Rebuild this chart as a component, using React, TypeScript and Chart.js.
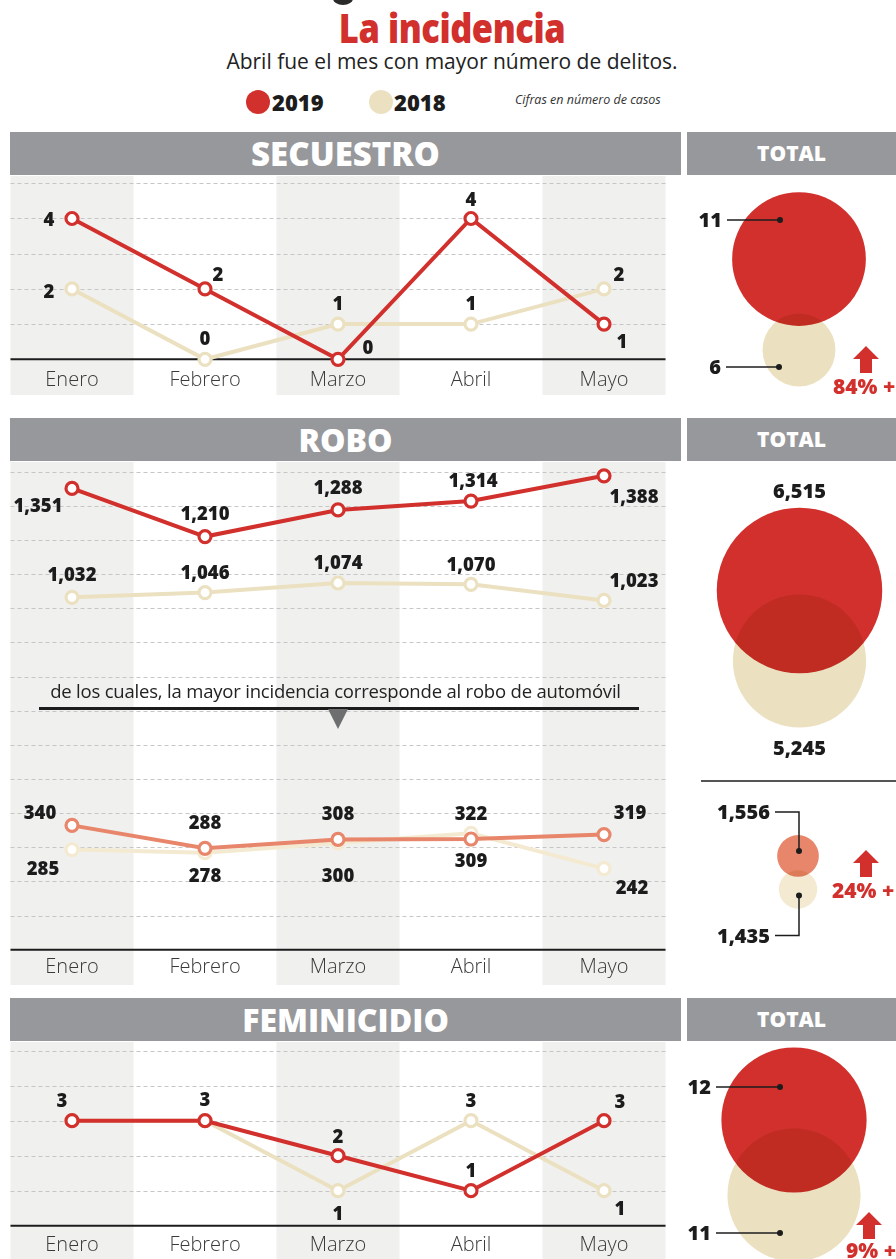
import React, { useEffect, useRef } from 'react';
import { Chart, registerables } from 'chart.js';

Chart.register(...registerables);

// ---------------- data ----------------
const MONTHS = ['Enero', 'Febrero', 'Marzo', 'Abril', 'Mayo'];
const YEARS = ['2019', '2018'];
const SECUESTRO_2019 = [4, 2, 0, 4, 1];
const SECUESTRO_2018 = [2, 0, 1, 1, 2];
const ROBO_2019 = [1351, 1210, 1288, 1314, 1388];
const ROBO_2018 = [1032, 1046, 1074, 1070, 1023];
const AUTO_2019 = [340, 288, 308, 309, 319];
const AUTO_2018 = [285, 278, 300, 322, 242];
const FEMINICIDIO_2019 = [3, 3, 2, 1, 3];
const FEMINICIDIO_2018 = [3, 3, 1, 3, 1];
const SECUESTRO_TOTAL = [11, 6];
const ROBO_TOTAL = [6515, 5245];
const AUTO_TOTAL = [1556, 1435];
const FEMINICIDIO_TOTAL = [12, 11];
const CHANGE_LABELS = ['84% +', '24% +', '9% +'];

// ---------------- label placement (style, offsets from each point) ----------------
const SEC_19_OFF = [[-23, 1], [13, -15], [30, -12], [0, -19], [18, 17]];
const SEC_18_OFF = [[-23, 2], [0, -21], [0, -21], [0, -21], [15, -15]];
const ROBO_19_OFF = [[-34, 17], [0, -23], [0, -23], [2, -21], [30, 21]];
const ROBO_18_OFF = [[0, -23], [0, -20], [0, -21], [0, -20], [30, -20]];
const AUTO_19_OFF = [[-32, -13], [0, -26], [0, -26], [0, 21], [26, -22]];
const AUTO_18_OFF = [[-29, 19], [0, 23], [0, 32], [0, -20], [28, 19]];
const FEM_19_OFF = [[-10, -20], [0, -21], [0, -19], [0, -20], [16, -19]];
const FEM_18_OFF = [null, null, [0, 23], [0, -20], [16, 18]];

// ---------------- styles ----------------
const FONT = '"Open Sans", "DejaVu Sans", sans-serif';
const RED = '#d1302c';
const BEIGE = '#ebe1c1';
const ORANGE = '#e8866b';
const LIGHT_BEIGE = '#f3ead1';
const STRIPE = '#f0f0ee';
const HEADER_GRAY = '#97989b';
const INK = '#1c1c1c';

const fmt = (v: number) => String(v).replace(/\B(?=(\d{3})+(?!\d))/g, ',');

function textC(ctx: CanvasRenderingContext2D, s: string, x: number, cy: number, size: number, align: CanvasTextAlign = 'center', weight = 800, color = INK) {
  ctx.save();
  ctx.font = `${weight} ${size}px ${FONT}`;
  ctx.fillStyle = color;
  ctx.textAlign = align;
  ctx.textBaseline = 'alphabetic';
  ctx.fillText(s, x, cy + 0.36 * size);
  ctx.restore();
}

const stripeWidth = (chart: any) => {
  const x = chart.scales.x;
  return ((x.right - x.left) / chart.data.labels.length) * 0.925;
};

const stripesPlugin = {
  id: 'stripes',
  beforeDraw(chart: any) {
    const x = chart.scales.x;
    const ctx = chart.ctx;
    const n = chart.data.labels.length;
    const w = stripeWidth(chart);
    ctx.save();
    ctx.fillStyle = STRIPE;
    for (let i = 0; i < n; i += 2) {
      const cx = x.getPixelForValue(i);
      ctx.fillRect(cx - w / 2, 0, w, chart.height);
    }
    ctx.restore();
  },
};

const makeGridPlugin = (step: number) => ({
  id: 'dashgrid',
  beforeDatasetsDraw(chart: any) {
    const x = chart.scales.x;
    const y = chart.scales.y;
    const ctx = chart.ctx;
    const n = chart.data.labels.length;
    const w = stripeWidth(chart);
    const left = x.getPixelForValue(0) - w / 2;
    const right = x.getPixelForValue(n - 1) + w / 2;
    ctx.save();
    ctx.setLineDash([4, 3]);
    ctx.strokeStyle = '#c6c6c6';
    ctx.lineWidth = 1;
    for (let v = y.min + step; v <= y.max + 1e-9; v += step) {
      const py = Math.round(y.getPixelForValue(v)) + 0.5;
      ctx.beginPath();
      ctx.moveTo(left, py);
      ctx.lineTo(right, py);
      ctx.stroke();
    }
    ctx.setLineDash([]);
    ctx.strokeStyle = INK;
    ctx.lineWidth = 2;
    const by = y.getPixelForValue(y.min);
    ctx.beginPath();
    ctx.moveTo(left, by);
    ctx.lineTo(right, by);
    ctx.stroke();
    ctx.restore();
  },
});

const valueLabelsPlugin = {
  id: 'valuelabels',
  afterDatasetsDraw(chart: any) {
    const ctx = chart.ctx;
    chart.data.datasets.forEach((ds: any, di: number) => {
      const meta = chart.getDatasetMeta(di);
      (ds.labelOffsets || []).forEach((off: number[] | null, i: number) => {
        if (!off) return;
        const pt = meta.data[i];
        textC(ctx, fmt(ds.data[i]), pt.x + off[0], pt.y + off[1], ds.labelSize || 18.5);
      });
    });
  },
};

type Series = { data: number[]; color: string; axis?: string; offsets: (number[] | null)[] };

function LineBlock(props: {
  top: number; height: number; padTop: number; axisH: number; labelPad: number;
  series: Series[]; scales: any; step: number;
}) {
  const ref = useRef<HTMLCanvasElement>(null);
  useEffect(() => {
    const chart = new Chart(ref.current as HTMLCanvasElement, {
      type: 'line',
      data: {
        labels: MONTHS,
        datasets: props.series.map((s, i) => ({
          label: YEARS[i % 2],
          data: s.data,
          yAxisID: s.axis || 'y',
          borderColor: s.color,
          borderWidth: 4,
          pointRadius: 6,
          pointBorderWidth: 3.2,
          pointBackgroundColor: '#ffffff',
          pointBorderColor: s.color,
          tension: 0,
          clip: false,
          labelOffsets: s.offsets,
        })) as any,
      },
      options: {
        animation: false,
        responsive: false,
        events: [],
        layout: { autoPadding: false, padding: { left: 5.5, right: 9.5, top: props.padTop, bottom: 0 } },
        plugins: { legend: { display: false }, tooltip: { enabled: false } },
        scales: {
          x: {
            type: 'category',
            offset: true,
            grid: { display: false, drawTicks: false },
            border: { display: false },
            ticks: {
              font: { family: FONT, size: 20, weight: 300 as any },
              color: '#3a3a3a',
              padding: props.labelPad,
              maxRotation: 0,
              autoSkip: false,
            },
            afterFit: (s: any) => { s.height = props.axisH; },
          },
          ...props.scales,
        },
      },
      plugins: [stripesPlugin, makeGridPlugin(props.step), valueLabelsPlugin],
    });
    return () => chart.destroy();
  }, []);
  return (
    <canvas ref={ref} width={680} height={props.height}
      style={{ position: 'absolute', left: 0, top: props.top, width: 680, height: props.height }} />
  );
}

const blendPlugin = {
  id: 'blend',
  beforeDatasetDraw(chart: any, args: any) {
    const ds = chart.data.datasets[args.index];
    if (ds.blend) { chart.ctx.save(); chart.ctx.globalCompositeOperation = ds.blend; }
  },
  afterDatasetDraw(chart: any, args: any) {
    const ds = chart.data.datasets[args.index];
    if (ds.blend) chart.ctx.restore();
  },
};

type Pt = { x: number; y: number; r: number };

function TotalsBlock(props: {
  top: number; height: number; padLeft: number; yRange: number[]; values: number[];
  colors: string[]; k: number; decorate: (ctx: CanvasRenderingContext2D, pts: Pt[], values: number[]) => void;
}) {
  const ref = useRef<HTMLCanvasElement>(null);
  useEffect(() => {
    const chart = new Chart(ref.current as HTMLCanvasElement, {
      type: 'bubble',
      data: {
        datasets: props.values.map((v, i) => ({
          label: YEARS[i],
          data: [{ x: 0, y: v, r: v * props.k }],
          backgroundColor: props.colors[i],
          borderWidth: 0,
          order: props.values.length - i,
          clip: false,
          blend: i > 0 ? 'multiply' : undefined,
        })) as any,
      },
      options: {
        animation: false,
        responsive: false,
        events: [],
        layout: { autoPadding: false, padding: { left: props.padLeft, right: 0, top: 0, bottom: 0 } },
        plugins: { legend: { display: false }, tooltip: { enabled: false } },
        scales: {
          x: { display: false, min: -1, max: 1 },
          y: { display: false, min: props.yRange[0], max: props.yRange[1] },
        },
      },
      plugins: [blendPlugin, {
        id: 'deco',
        afterDraw: (c: any) => {
          const pts = c.data.datasets.map((_: any, i: number) => {
            const el = c.getDatasetMeta(i).data[0];
            return { x: el.x, y: el.y, r: el.options.radius };
          });
          props.decorate(c.ctx, pts, props.values);
        },
      }],
    });
    return () => chart.destroy();
  }, []);
  return (
    <canvas ref={ref} width={209} height={props.height}
      style={{ position: 'absolute', left: 687, top: props.top, width: 209, height: props.height }} />
  );
}

function drawLeader(ctx: CanvasRenderingContext2D, px: number, py: number, len: number, text: string) {
  ctx.save();
  ctx.strokeStyle = INK;
  ctx.lineWidth = 1.5;
  ctx.beginPath();
  ctx.moveTo(px - len, py);
  ctx.lineTo(px, py);
  ctx.stroke();
  ctx.fillStyle = INK;
  ctx.beginPath();
  ctx.arc(px, py, 3, 0, Math.PI * 2);
  ctx.fill();
  ctx.restore();
  textC(ctx, text, px - len - 5, py, 20, 'right');
}

function drawElbow(ctx: CanvasRenderingContext2D, px: number, py: number, ey: number, ex: number, text: string) {
  ctx.save();
  ctx.strokeStyle = INK;
  ctx.lineWidth = 1.5;
  ctx.beginPath();
  ctx.moveTo(px, py);
  ctx.lineTo(px, ey);
  ctx.lineTo(ex, ey);
  ctx.stroke();
  ctx.fillStyle = INK;
  ctx.beginPath();
  ctx.arc(px, py, 3, 0, Math.PI * 2);
  ctx.fill();
  ctx.restore();
  textC(ctx, text, ex - 5, ey, 20, 'right');
}

function drawArrow(ctx: CanvasRenderingContext2D, tx: number, ty: number, label: string, lx: number, ly: number) {
  ctx.save();
  ctx.fillStyle = RED;
  ctx.beginPath();
  ctx.moveTo(tx, ty);
  ctx.lineTo(tx + 13, ty + 13);
  ctx.lineTo(tx + 6, ty + 13);
  ctx.lineTo(tx + 6, ty + 27);
  ctx.lineTo(tx - 6, ty + 27);
  ctx.lineTo(tx - 6, ty + 13);
  ctx.lineTo(tx - 13, ty + 13);
  ctx.closePath();
  ctx.fill();
  ctx.restore();
  textC(ctx, label, lx, ly, 21, 'left', 800, RED);
}

function Header({ top, left, width, text, size }: { top: number; left: number; width: number; text: string; size: number }) {
  return (
    <div style={{
      position: 'absolute', left, top, width, height: 43, background: HEADER_GRAY,
      display: 'flex', alignItems: 'center', justifyContent: 'center',
      color: '#fff', fontWeight: 800, fontSize: size, lineHeight: 1, fontFamily: FONT,
    }}>{text}</div>
  );
}

export default function App() {
  useEffect(() => { document.body.style.margin = '0'; }, []);
  return (
    <div style={{ position: 'absolute', left: 0, top: 0, width: 896, height: 1259, overflow: 'hidden', background: '#fff', fontFamily: FONT }}>
      <div style={{ position: 'absolute', left: 333, top: -8, width: 20, height: 13, borderRadius: '50%', background: '#2a2a2a' }} />
      <div style={{ position: 'absolute', left: 4, top: 8, width: 896, textAlign: 'center', fontSize: 40, lineHeight: '40px', fontWeight: 800, color: RED, transform: 'scaleX(0.86)', transformOrigin: '448px 0', letterSpacing: -0.5 }}>La incidencia</div>
      <div style={{ position: 'absolute', left: 4, top: 51, width: 896, textAlign: 'center', fontSize: 21, lineHeight: '21px', fontWeight: 400, color: '#222' }}>Abril fue el mes con mayor número de delitos.</div>

      {/* legend */}
      <div style={{ position: 'absolute', left: 246, top: 90, width: 24, height: 24, borderRadius: '50%', background: RED }} />
      <div style={{ position: 'absolute', left: 272, top: 91, fontSize: 22, lineHeight: '22px', fontWeight: 800, color: INK }}>{YEARS[0]}</div>
      <div style={{ position: 'absolute', left: 369, top: 90, width: 24, height: 24, borderRadius: '50%', background: BEIGE }} />
      <div style={{ position: 'absolute', left: 394, top: 91, fontSize: 22, lineHeight: '22px', fontWeight: 800, color: INK }}>{YEARS[1]}</div>
      <div style={{ position: 'absolute', left: 515, top: 93, fontSize: 12.5, lineHeight: '13px', fontStyle: 'italic', color: '#333' }}>Cifras en número de casos</div>

      {/* SECUESTRO */}
      <Header top={132} left={10} width={671} text="SECUESTRO" size={33} />
      <Header top={132} left={687} width={209} text="TOTAL" size={21} />
      <LineBlock top={176} height={219} padTop={7.3} axisH={35.7} labelPad={9} step={1}
        scales={{ y: { display: false, min: 0, max: 5 } }}
        series={[
          { data: SECUESTRO_2019, color: RED, offsets: SEC_19_OFF },
          { data: SECUESTRO_2018, color: BEIGE, offsets: SEC_18_OFF },
        ]} />
      <TotalsBlock top={176} height={219} padLeft={15} yRange={[3.53, 15.56]} values={SECUESTRO_TOTAL}
        colors={[RED, BEIGE]} k={6.08}
        decorate={(ctx, p, v) => {
          drawLeader(ctx, p[0].x - 19, p[0].y - 39, 53, fmt(v[0]));
          drawLeader(ctx, p[1].x - 20, p[1].y + 17, 53, fmt(v[1]));
          drawArrow(ctx, 179, 170, CHANGE_LABELS[0], 146, 210);
        }} />

      {/* ROBO */}
      <Header top={418} left={10} width={671} text="ROBO" size={32} />
      <Header top={418} left={687} width={209} text="TOTAL" size={21} />
      <LineBlock top={462} height={523} padTop={9.7} axisH={35.3} labelPad={6} step={100}
        scales={{
          y: { display: false, min: 0, max: 1400 },
          y2: { display: false, min: 58, max: 1142 },
        }}
        series={[
          { data: ROBO_2019, color: RED, offsets: ROBO_19_OFF },
          { data: ROBO_2018, color: BEIGE, offsets: ROBO_18_OFF },
          { data: AUTO_2019, color: ORANGE, axis: 'y2', offsets: AUTO_19_OFF },
          { data: AUTO_2018, color: LIGHT_BEIGE, axis: 'y2', offsets: AUTO_18_OFF },
        ]} />
      <div style={{ position: 'absolute', left: 0, top: 681, width: 671, textAlign: 'center', fontSize: 18.5, lineHeight: '19px', fontWeight: 400, color: '#222', whiteSpace: 'nowrap', letterSpacing: -0.2 }}>de los cuales, la mayor incidencia corresponde al robo de automóvil</div>
      <div style={{ position: 'absolute', left: 39, top: 707, width: 600, height: 2.5, background: INK }} />
      <div style={{ position: 'absolute', left: 328, top: 709, width: 0, height: 0, borderLeft: '10px solid transparent', borderRight: '10px solid transparent', borderTop: '20px solid #6d6e70' }} />
      <TotalsBlock top={462} height={318} padLeft={16} yRange={[3101, 8830]} values={ROBO_TOTAL}
        colors={[RED, BEIGE]} k={0.0127}
        decorate={(ctx, p, v) => {
          textC(ctx, fmt(v[0]), p[0].x, p[0].y - p[0].r - 17, 20);
          textC(ctx, fmt(v[1]), p[1].x, p[1].y + p[1].r + 20, 20);
        }} />
      <div style={{ position: 'absolute', left: 701, top: 780, width: 195, height: 2, background: '#555' }} />
      <TotalsBlock top={782} height={203} padLeft={13} yRange={[1090, 1823]} values={AUTO_TOTAL}
        colors={[ORANGE, LIGHT_BEIGE]} k={0.0134}
        decorate={(ctx, p, v) => {
          drawElbow(ctx, p[0].x + 1, p[0].y - 5, p[0].y - 44, p[0].x - 23, fmt(v[0]));
          drawElbow(ctx, p[1].x + 1, p[1].y + 6, p[1].y + 46, p[1].x - 23, fmt(v[1]));
          drawArrow(ctx, 179, 68, CHANGE_LABELS[1], 145, 108);
        }} />

      {/* FEMINICIDIO */}
      <Header top={998} left={10} width={671} text="FEMINICIDIO" size={32} />
      <Header top={998} left={687} width={209} text="TOTAL" size={21} />
      <LineBlock top={1042} height={217} padTop={8.7} axisH={33.3} labelPad={8} step={1}
        scales={{ y: { display: false, min: 0, max: 5 } }}
        series={[
          { data: FEMINICIDIO_2019, color: RED, offsets: FEM_19_OFF },
          { data: FEMINICIDIO_2018, color: BEIGE, offsets: FEM_18_OFF },
        ]} />
      <TotalsBlock top={1042} height={217} padLeft={5} yRange={[10.147, 13.04]} values={FEMINICIDIO_TOTAL}
        colors={[RED, BEIGE]} k={6.05}
        decorate={(ctx, p, v) => {
          drawLeader(ctx, p[0].x - 14, p[0].y - 33, 64, fmt(v[0]));
          drawLeader(ctx, p[1].x - 14, p[1].y + 38, 64, fmt(v[1]));
          drawArrow(ctx, 182, 170, CHANGE_LABELS[2], 159, 208);
        }} />
    </div>
  );
}
